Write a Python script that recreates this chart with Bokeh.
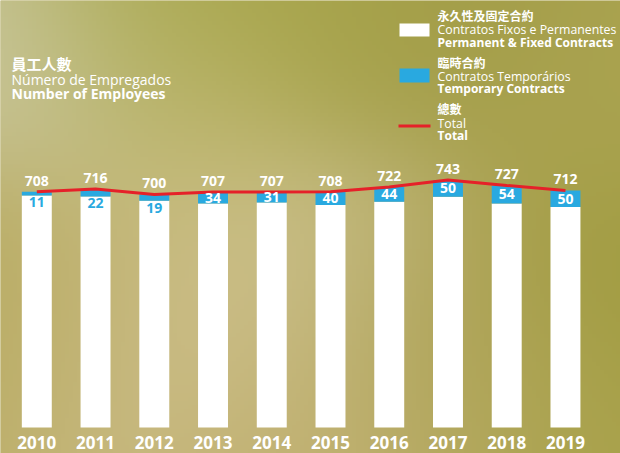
import numpy as np
from bokeh.plotting import figure
from bokeh.models import ColumnDataSource, Range1d, Label, LabelSet, BoxAnnotation
from bokeh.core.properties import value
from bokeh.embed import file_html
from bokeh.resources import INLINE

# ---- data ----
years = [2010, 2011, 2012, 2013, 2014, 2015, 2016, 2017, 2018, 2019]
year_labels = ["2010", "2011", "2012", "2013", "2014", "2015", "2016", "2017", "2018", "2019"]
permanent = [697, 694, 681, 673, 676, 668, 678, 693, 673, 662]
temporary = [11, 22, 19, 34, 31, 40, 44, 50, 54, 50]
totals = [708, 716, 700, 707, 707, 708, 722, 743, 727, 712]

BG = "#b7ad64"
WHITE = "#ffffff"
BLUE = "#29a9e0"
RED = "#e52129"
LATIN = "Open Sans"
CJK = "Noto Sans CJK TC"

W, H = 620, 453
xr = Range1d(2009.382, 2019.937)
yr = Range1d(-78.1, 1282.3)
p = figure(width=W, height=H, output_backend="svg", toolbar_location=None,
           x_range=xr, y_range=yr,
           x_axis_location=None, y_axis_location=None, min_border=0,
           outline_line_color=None)
p.grid.visible = False
p.background_fill_color = BG
p.border_fill_color = BG

# soft blurred backdrop (decoration only)
bg_spots = [(30, 80, "#cbc8a0"), (150, 30, "#a9a94f"), (300, 30, "#a7a54b"),
            (420, 60, "#a39d48"), (580, 120, "#aaa350"), (200, 150, "#c6bb7c"),
            (60, 300, "#c9ba84"), (230, 320, "#cdbf8a"), (360, 260, "#cfc596"),
            (430, 300, "#a19640"), (480, 380, "#b9ad68"), (600, 300, "#9f9b3e"),
            (5, 280, "#b1a552"), (300, 420, "#c0b070"), (600, 440, "#a9a24a")]
nx, ny = 155, 113
gx = (np.arange(nx) + 0.5) * W / nx
gy = (np.arange(ny) + 0.5) * H / ny
GX, GY = np.meshgrid(gx, gy)
acc = np.zeros((ny, nx, 3))
wsum = np.zeros((ny, nx))
for sx, sy, col in bg_spots:
    w = np.exp(-((GX - sx) ** 2 + (GY - sy) ** 2) / (2 * 85.0 ** 2))
    rgb = [int(col[i:i + 2], 16) for i in (1, 3, 5)]
    for k in range(3):
        acc[..., k] += w * rgb[k]
    wsum += w
rgbimg = acc / wsum[..., None]
img = np.zeros((ny, nx), dtype=np.uint32)
view = img.view(dtype=np.uint8).reshape((ny, nx, 4))
view[..., :3] = np.clip(rgbimg, 0, 255).astype(np.uint8)
view[..., 3] = 255
img = img[::-1]
p.image_rgba(image=[img], x=xr.start, y=yr.start, dw=xr.end - xr.start,
             dh=yr.end - yr.start, level="image")

src = ColumnDataSource(dict(
    year=years, year_str=year_labels, permanent=permanent, temporary=temporary,
    total=totals, total_str=[str(t) for t in totals],
))

p.vbar(x="year", width=0.51, bottom=0, top="permanent", source=src,
       fill_color=WHITE, line_color=None)
p.vbar(x="year", width=0.51, bottom="permanent", top="total", source=src,
       fill_color=BLUE, line_color=None)
p.line(x="year", y="total", source=src, line_color=RED, line_width=3)

# total labels
p.text(x="year", y="total", text="total_str", source=src, y_offset=-11,
       text_align="center", text_baseline="alphabetic", text_color=WHITE,
       text_font=value(LATIN), text_font_size="14px", text_font_style="bold")

# temporary labels: inside band (white) when band is tall, below it (blue) otherwise
inside = [i for i, t in enumerate(temporary) if t >= 30]
outside = [i for i, t in enumerate(temporary) if t < 30]
src_in = ColumnDataSource(dict(
    year=[years[i] for i in inside],
    y=[permanent[i] + temporary[i] / 2 for i in inside],
    txt=[str(temporary[i]) for i in inside]))
src_out = ColumnDataSource(dict(
    year=[years[i] for i in outside],
    y=[permanent[i] for i in outside],
    txt=[str(temporary[i]) for i in outside]))
p.text(x="year", y="y", text="txt", source=src_in, text_align="center",
       text_baseline="middle", text_color=WHITE, text_font=value(LATIN),
       text_font_size="14px", text_font_style="bold")
p.text(x="year", y="y", text="txt", source=src_out, text_align="center",
       text_baseline="top", y_offset=2, text_color=BLUE, text_font=value(LATIN),
       text_font_size="14px", text_font_style="bold")

# year labels
p.add_layout(LabelSet(x="year", y=5, y_units="screen", text="year_str", source=src,
                      text_align="center", text_baseline="alphabetic",
                      text_color=WHITE, text_font=value(LATIN),
                      text_font_size="17px", text_font_style="bold"))

# title block
def lab(x, y, text, size, bold=False, font=LATIN):
    p.add_layout(Label(x=x, y=y, x_units="screen", y_units="screen", text=text,
                       text_color=WHITE, text_font=font, text_font_size=size,
                       text_font_style="bold" if bold else "normal",
                       text_baseline="middle", text_align="left"))

lab(11, 390, "員工人數", "15px", True, CJK)
lab(11, 374, "Número de Empregados", "14px")
lab(11, 360, "Number of Employees", "14px", True)

# legend
def swatch(l, r, b, t, c):
    p.add_layout(BoxAnnotation(left=l, right=r, bottom=b, top=t,
                               left_units="screen", right_units="screen",
                               bottom_units="screen", top_units="screen",
                               fill_color=c, fill_alpha=1, line_color=None))

sx0 = 399
swatch(sx0, sx0 + 30, 417, 430, WHITE)
swatch(sx0, sx0 + 30, 371, 385, BLUE)
swatch(sx0 - 1, sx0 + 31, 326, 329, RED)

lx = 437
lab(lx, 438, "永久性及固定合約", "12px", True, CJK)
lab(lx, 424, "Contratos Fixos e Permanentes", "12.3px")
lab(lx, 411, "Permanent & Fixed Contracts", "12px", True)
lab(lx, 391, "臨時合約", "12px", True, CJK)
lab(lx, 377, "Contratos Temporários", "12.3px")
lab(lx, 365, "Temporary Contracts", "12px", True)
lab(lx, 345, "總數", "12px", True, CJK)
lab(lx, 330, "Total", "12.3px")
lab(lx, 318, "Total", "12px", True)

open("out.html", "w").write(file_html(p, INLINE))
